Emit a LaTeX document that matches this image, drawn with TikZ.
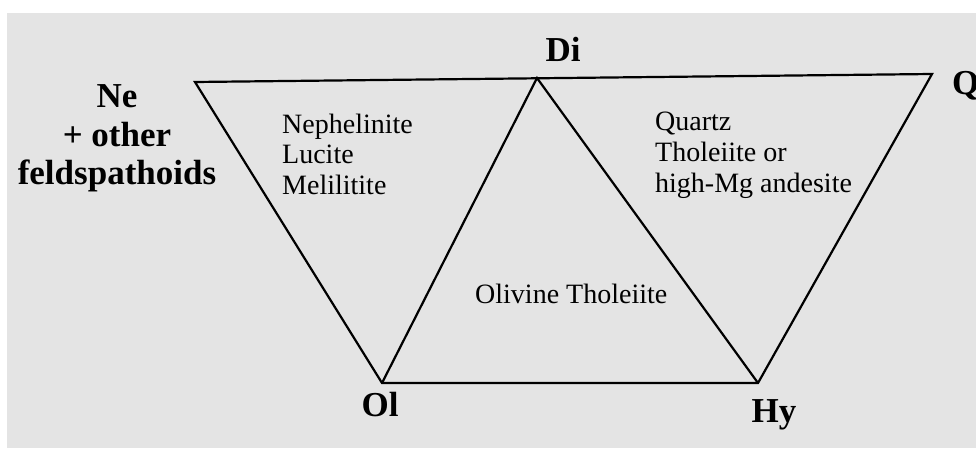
\documentclass[tikz,border=0pt]{standalone}
\usepackage{fontspec}
\setmainfont{Liberation Serif}
\usepackage{xcolor}
\definecolor{panelgray}{RGB}{228,228,228}

\begin{document}
\begin{tikzpicture}[x=1pt,y=-1pt,
    edge/.style={line width=2.2pt,line join=miter},
    corner/.style={font=\fontsize{35}{38.5}\selectfont\bfseries,inner sep=0pt},
    field/.style={font=\fontsize{28}{30.5}\selectfont,inner sep=0pt,align=left,anchor=base west}]
    \useasboundingbox (0,0) rectangle (976,449);
    \fill[white] (0,0) rectangle (976,449);
    \fill[panelgray] (7,13) rectangle (976,448);
    % corners of the two trapezia
    \coordinate (ne) at (195,82);
    \coordinate (di) at (537,78);
    \coordinate (q)  at (932,74);
    \coordinate (ol) at (382,383);
    \coordinate (hy) at (758,383);
    \draw[edge] (ne) -- (q) -- (hy) -- (ol) -- cycle;
    \draw[edge] (ol) -- (di) -- (hy);
    % end members (base = last line)
    \node[corner,anchor=base,align=center] (nelab) at (117,185) {Ne\\+ other\\feldspathoids};
    \node[corner,anchor=base] (dilab) at (563,62) {Di};
    \node[corner,anchor=base west] (qlab) at (952,95) {Q};
    \node[corner,anchor=base] (ollab) at (380,416) {Ol};
    \node[corner,anchor=base] (hylab) at (774,422) {Hy};
    % rock types
    \node[field] (neph) at (282,194) {Nephelinite\\Lucite\\Melilitite};
    \node[field] (qtz) at (655,192) {Quartz\\Tholeiite or\\high-Mg andesite};
    \node[field] (oltho) at (475,303) {Olivine Tholeiite};
\end{tikzpicture}
\end{document}
